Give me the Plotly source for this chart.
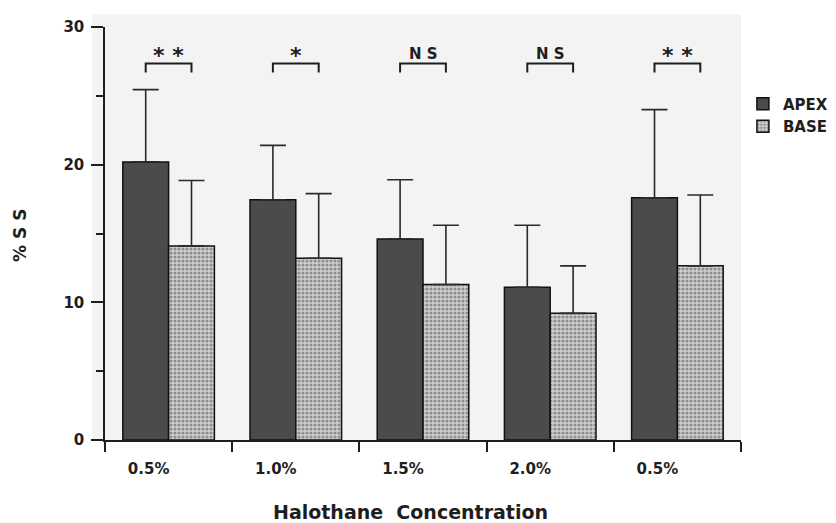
import plotly.graph_objects as go

# ---- data ----
groups = ["0.5%", "1.0%", "1.5%", "2.0%", "0.5%"]
apex_mean = [20.2, 17.45, 14.6, 11.1, 17.6]
apex_err = [5.25, 3.95, 4.3, 4.5, 6.4]
base_mean = [14.1, 13.2, 11.3, 9.2, 12.65]
base_err = [4.75, 4.7, 4.3, 3.45, 5.15]
significance = ["* *", "*", "N S", "N S", "* *"]
y_ticks = [0, 10, 20, 30]
y_minor = [5, 15, 25]

positions = list(range(len(groups)))
BARGAP = 0.28
half = (1 - BARGAP) / 4  # offset of each bar centre from the group centre

FONT = "DejaVu Sans"
INK = "#1e1e1e"

fig = go.Figure()
fig.add_trace(go.Bar(
    x=positions, y=apex_mean, name="APEX",
    marker=dict(color="#4b4b4b", line=dict(color="#111111", width=1.5)),
    error_y=dict(type="data", symmetric=False, array=apex_err,
                 arrayminus=[0] * len(apex_err), color="#2a2a2a",
                 thickness=1.6, width=13),
))
fig.add_trace(go.Bar(
    x=positions, y=base_mean, name="BASE",
    marker=dict(color="#c8c8c8",
                pattern=dict(shape=".", bgcolor="#d0d0d0", fgcolor="#4e4e4e",
                             size=4, solidity=0.5),
                line=dict(color="#111111", width=1.5)),
    error_y=dict(type="data", symmetric=False, array=base_err,
                 arrayminus=[0] * len(base_err), color="#2a2a2a",
                 thickness=1.6, width=13),
))

# significance brackets and labels
bracket_top = 27.35
bracket_leg = 26.7
shapes = [dict(type="rect", xref="paper", yref="paper",
               x0=-0.02, x1=1.0, y0=0, y1=1.03,
               fillcolor="#f3f3f3", line=dict(width=0), layer="below")]
annotations = []
for p, lab in zip(positions, significance):
    x0, x1 = p - half, p + half
    shapes.append(dict(
        type="path", xref="x", yref="y",
        path=f"M {x0},{bracket_leg} L {x0},{bracket_top} L {x1},{bracket_top} L {x1},{bracket_leg}",
        line=dict(color=INK, width=2)))
    star = "*" in lab
    annotations.append(dict(
        x=p, y=bracket_top, xref="x", yref="y", text=lab, showarrow=False,
        yanchor="bottom", yshift=-7 if star else -2,
        font=dict(family=FONT, size=22 if star else 15, color=INK, weight="bold")))

# axis titles
annotations.append(dict(
    x=0.48, y=-0.174, xref="paper", yref="paper", text="Halothane  Concentration",
    showarrow=False, xanchor="center", yanchor="middle",
    font=dict(family=FONT, size=19, color=INK, weight="bold")))
annotations.append(dict(
    x=-0.134, y=0.496, xref="paper", yref="paper", text="% S S", textangle=-90,
    showarrow=False, xanchor="center", yanchor="middle",
    font=dict(family=FONT, size=17, color=INK, weight="bold")))

fig.update_layout(
    width=828, height=515,
    margin=dict(l=97, r=95, t=19, b=83, autoexpand=False),
    paper_bgcolor="white", plot_bgcolor="#f3f3f3",
    barmode="group", bargap=BARGAP, bargroupgap=0,
    font=dict(family=FONT, color=INK),
    shapes=shapes, annotations=annotations,
    legend=dict(x=1.003, y=0.787, xanchor="left", yanchor="middle",
                bgcolor="rgba(0,0,0,0)", tracegroupgap=0,
                font=dict(family=FONT, size=15, color=INK, weight="bold")),
    showlegend=True,
)
fig.update_xaxes(
    automargin=False,
    range=[-0.5, len(groups) - 0.5], tickmode="array",
    tickvals=positions, ticktext=groups,
    ticks="outside", ticklen=0, tickcolor="rgba(0,0,0,0)",
    ticklabelshift=-20, ticklabelstandoff=14,
    minor=dict(tickmode="array", tickvals=[p - 0.5 for p in positions] + [positions[-1] + 0.5],
               ticks="outside", ticklen=10, tickwidth=1.5, tickcolor=INK),
    showline=True, linecolor=INK, linewidth=1.5,
    showgrid=False, zeroline=False,
    tickfont=dict(family=FONT, size=15, color=INK, weight="bold"),
)
fig.update_yaxes(
    automargin=False,
    range=[0, 30], tickmode="array", tickvals=y_ticks,
    ticks="outside", ticklen=12, tickwidth=1.5, tickcolor=INK,
    ticklabelstandoff=4,
    minor=dict(tickmode="array", tickvals=y_minor, ticks="outside",
               ticklen=7, tickwidth=1.5, tickcolor=INK),
    showline=True, linecolor=INK, linewidth=1.5,
    showgrid=False, zeroline=False,
    tickfont=dict(family=FONT, size=15, color=INK, weight="bold"),
)

fig.write_html("out.html")
